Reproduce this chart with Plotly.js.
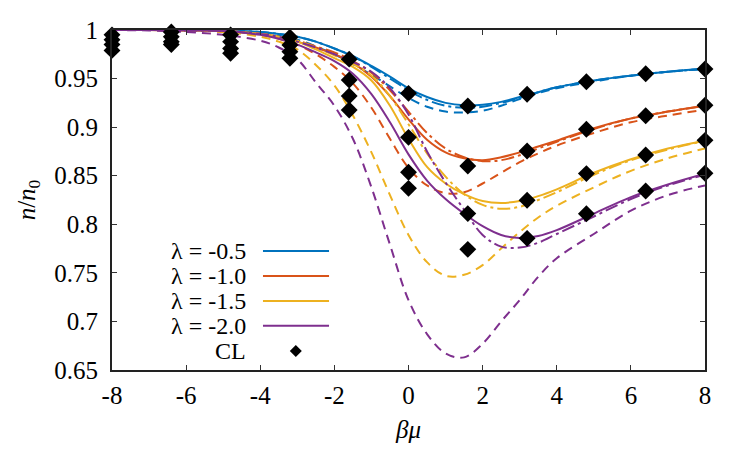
<!DOCTYPE html>
<html>
<head>
<meta charset="utf-8">
<script src="https://cdn.plot.ly/plotly-3.0.1.min.js"></script>
<style>
  html, body { margin: 0; padding: 0; background: #fff; }
  #plot { width: 750px; height: 450px; }
</style>
</head>
<body>
<div id="plot"></div>
<script>
// beta*mu grid for the theory curves
const betaMu = [-8, -7, -6, -5, -4, -3.5, -3, -2.5, -2, -1.5, -1, -0.5, 0, 0.5, 1, 1.5, 2, 2.5, 3, 3.5, 4, 5, 6, 7, 8];

// lambda = -0.5
const lam05Solid   = [1, 1, 1, 0.9995, 0.998, 0.996, 0.993, 0.988, 0.981, 0.973, 0.963, 0.952, 0.940, 0.931, 0.925, 0.9225, 0.923, 0.926, 0.931, 0.936, 0.941, 0.948, 0.953, 0.957, 0.960];
const lam05Dashed  = [1, 1, 1, 0.999, 0.997, 0.994, 0.990, 0.983, 0.975, 0.965, 0.954, 0.942, 0.930, 0.921, 0.916, 0.915, 0.917, 0.922, 0.929, 0.935, 0.940, 0.947, 0.953, 0.957, 0.960];
const lam05DashDot = [1, 1, 1, 0.9995, 0.998, 0.996, 0.993, 0.988, 0.981, 0.973, 0.962, 0.950, 0.938, 0.928, 0.922, 0.920, 0.921, 0.925, 0.930, 0.936, 0.941, 0.948, 0.953, 0.957, 0.960];

// lambda = -1.0
const lam10Solid   = [1, 1, 0.9995, 0.999, 0.996, 0.993, 0.988, 0.982, 0.975, 0.966, 0.952, 0.932, 0.908, 0.887, 0.874, 0.868, 0.866, 0.869, 0.874, 0.880, 0.886, 0.899, 0.909, 0.916, 0.922];
const lam10Dashed  = [1, 1, 0.9995, 0.998, 0.995, 0.991, 0.985, 0.975, 0.962, 0.945, 0.920, 0.888, 0.858, 0.840, 0.832, 0.833, 0.842, 0.853, 0.864, 0.873, 0.881, 0.894, 0.905, 0.912, 0.918];
const lam10DashDot = [1, 1, 0.9995, 0.999, 0.996, 0.993, 0.989, 0.983, 0.977, 0.968, 0.956, 0.938, 0.916, 0.894, 0.878, 0.869, 0.865, 0.866, 0.871, 0.878, 0.885, 0.898, 0.909, 0.916, 0.922];

// lambda = -1.5
const lam15Solid   = [1, 1, 0.9995, 0.999, 0.996, 0.993, 0.988, 0.980, 0.971, 0.962, 0.948, 0.922, 0.888, 0.859, 0.842, 0.831, 0.824, 0.822, 0.824, 0.829, 0.836, 0.853, 0.867, 0.878, 0.886];
const lam15Dashed  = [1, 1, 0.9995, 0.998, 0.993, 0.988, 0.980, 0.964, 0.943, 0.912, 0.874, 0.830, 0.789, 0.761, 0.747, 0.748, 0.758, 0.775, 0.792, 0.807, 0.819, 0.838, 0.855, 0.868, 0.878];
const lam15DashDot = [1, 1, 0.9995, 0.999, 0.996, 0.993, 0.989, 0.982, 0.974, 0.965, 0.953, 0.932, 0.903, 0.873, 0.849, 0.831, 0.820, 0.816, 0.818, 0.825, 0.833, 0.851, 0.866, 0.877, 0.886];

// lambda = -2.0
const lam20Solid   = [1, 1, 0.9995, 0.999, 0.995, 0.991, 0.985, 0.977, 0.968, 0.955, 0.934, 0.905, 0.872, 0.845, 0.826, 0.811, 0.798, 0.789, 0.786, 0.788, 0.794, 0.811, 0.828, 0.841, 0.852];
const lam20Dashed  = [1, 0.9995, 0.998, 0.995, 0.989, 0.982, 0.970, 0.946, 0.922, 0.888, 0.838, 0.779, 0.722, 0.687, 0.667, 0.663, 0.677, 0.700, 0.722, 0.746, 0.765, 0.790, 0.814, 0.830, 0.840];
const lam20DashDot = [1, 1, 0.9995, 0.999, 0.996, 0.993, 0.988, 0.982, 0.975, 0.967, 0.957, 0.940, 0.913, 0.875, 0.843, 0.815, 0.789, 0.777, 0.776, 0.781, 0.790, 0.808, 0.826, 0.840, 0.851];

// CL data points
const clBetaMu = [-8, -6.4, -4.8, -3.2, -1.6, 0, 1.6, 3.2, 4.8, 6.4, 8];
const clLam05  = [0.995, 0.998, 0.995, 0.9925, 0.970, 0.9348, 0.9218, 0.9338, 0.9468, 0.955, 0.9598];
const clLam10  = [0.990, 0.993, 0.988, 0.9846, 0.9485, 0.8895, 0.860, 0.8754, 0.8978, 0.9118, 0.9225];
const clLam15  = [0.985, 0.988, 0.981, 0.9777, 0.932, 0.8535, 0.811, 0.8247, 0.8522, 0.8713, 0.8864];
const clLam20  = [0.979, 0.985, 0.976, 0.9709, 0.9176, 0.837, 0.7742, 0.7855, 0.8109, 0.8343, 0.8525];

const legendLabels = ['λ = -0.5', 'λ = -1.0', 'λ = -1.5', 'λ = -2.0'];
const xTicks = [-8, -6, -4, -2, 0, 2, 4, 6, 8];
const yTicks = [0.65, 0.7, 0.75, 0.8, 0.85, 0.9, 0.95, 1];

const colors = ['#0072BD', '#D95319', '#EDB120', '#7E2F8E'];
const series = [
  [lam05Solid, lam05Dashed, lam05DashDot],
  [lam10Solid, lam10Dashed, lam10DashDot],
  [lam15Solid, lam15Dashed, lam15DashDot],
  [lam20Solid, lam20Dashed, lam20DashDot]
];
const dashes = ['solid', '9px,6px', '13px,4px,3px,4px'];

const traces = [];
series.forEach((group, i) => {
  // dashed and dash-dot first, solid on top
  [1, 2, 0].forEach(k => {
    traces.push({
      x: betaMu, y: group[k], type: 'scatter', mode: 'lines',
      line: { color: colors[i], width: 2, dash: dashes[k], shape: 'spline', smoothing: 1 },
      hoverinfo: 'skip', showlegend: false
    });
  });
});

const clAll = [clLam05, clLam10, clLam15, clLam20];
traces.push({
  x: [].concat(clBetaMu, clBetaMu, clBetaMu, clBetaMu),
  y: [].concat(...clAll),
  type: 'scatter', mode: 'markers',
  marker: { symbol: 'diamond', size: 13, color: '#000' },
  cliponaxis: false, showlegend: false
});

// hand-built key in the lower left of the plot area
const serif = 'Liberation Serif, Times New Roman, serif';
const keyFont = { family: serif, size: 24, color: '#000' };
const rowY = [0.35, 0.2765, 0.203, 0.13, 0.056];
const textRight = 0.228, lineX0 = 0.2546, lineX1 = 0.366, markX = 0.31;
const annotations = [];
const shapes = [];
legendLabels.forEach((lab, i) => {
  annotations.push({ xref: 'paper', yref: 'paper', x: textRight, y: rowY[i], text: lab,
    showarrow: false, xanchor: 'right', yanchor: 'middle', borderpad: 0, font: keyFont });
  shapes.push({ type: 'line', xref: 'paper', yref: 'paper', x0: lineX0, x1: lineX1, y0: rowY[i], y1: rowY[i],
    line: { color: colors[i], width: 2 } });
});
annotations.push({ xref: 'paper', yref: 'paper', x: textRight, y: rowY[4], text: 'CL',
  showarrow: false, xanchor: 'right', yanchor: 'middle', borderpad: 0, font: keyFont });
const dx = 6 / 593, dy = 6 / 340, cy = rowY[4];
shapes.push({ type: 'path', xref: 'paper', yref: 'paper',
  path: `M ${markX},${cy + dy} L ${markX + dx},${cy} L ${markX},${cy - dy} L ${markX - dx},${cy} Z`,
  fillcolor: '#000', line: { width: 0 } });

const axisFont = { family: serif, size: 25, color: '#000' };
const layout = {
  width: 750, height: 450,
  margin: { l: 112, r: 45, t: 30, b: 80 },
  paper_bgcolor: '#fff', plot_bgcolor: '#fff',
  font: axisFont,
  showlegend: false,
  xaxis: {
    range: [-8, 8], tickvals: xTicks, ticktext: xTicks.map(String),
    tickfont: axisFont,
    ticks: 'inside', ticklen: 5, tickwidth: 1, tickcolor: '#333',
    showline: true, linecolor: '#222', linewidth: 2, mirror: 'allticks',
    showgrid: false, zeroline: false, ticklabelstandoff: 2,
    title: { text: '<i>βμ</i>', font: axisFont, standoff: 12 }
  },
  yaxis: {
    range: [0.65, 1], tickvals: yTicks, ticktext: yTicks.map(String),
    tickfont: axisFont,
    ticks: 'inside', ticklen: 5, tickwidth: 1, tickcolor: '#333',
    showline: true, linecolor: '#222', linewidth: 2, mirror: 'allticks',
    showgrid: false, zeroline: false, ticklabelstandoff: 7,
    title: { text: '<i>n</i>/<i>n</i><sub>0</sub>', font: axisFont, standoff: 12 }
  },
  annotations: annotations,
  shapes: shapes
};

Plotly.newPlot('plot', traces, layout, { staticPlot: true, displayModeBar: false });
</script>
</body>
</html>
